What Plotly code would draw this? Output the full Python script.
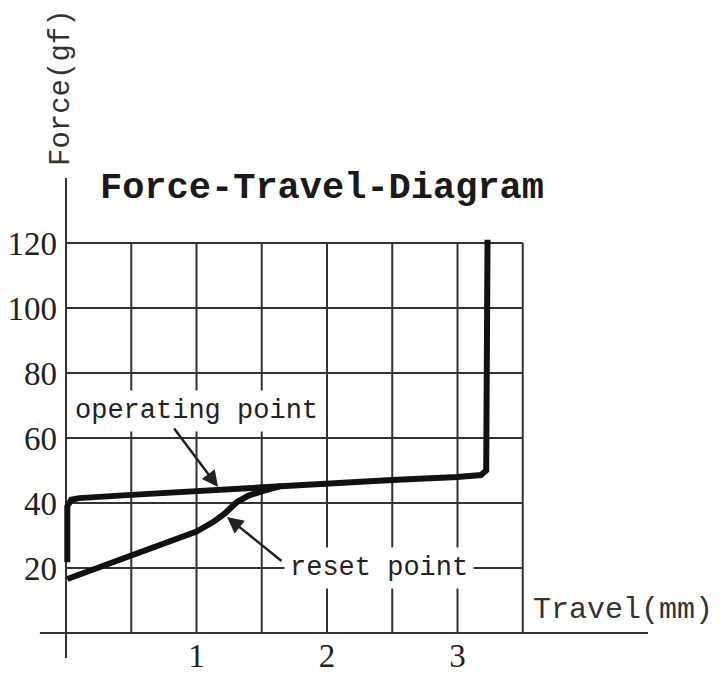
import plotly.graph_objects as go

# ---- data ----
op_travel = [0.01, 0.01, 0.04, 0.1, 0.5, 1.0, 1.5, 2.0, 2.5, 3.0, 3.18, 3.22, 3.23]
op_force = [21.8, 39.0, 41.0, 41.5, 42.5, 43.7, 44.9, 46.2, 47.1, 48.0, 48.6, 50.0, 121.0]

reset_travel = [0.01, 0.5, 1.0, 1.13, 1.22, 1.31, 1.4, 1.5, 1.65]
reset_force = [16.6, 23.8, 31.2, 34.2, 36.9, 40.3, 42.3, 43.6, 45.3]

x_tick_vals = [1, 2, 3]
x_tick_text = ["1", "2", "3"]
y_tick_vals = [20, 40, 60, 80, 100, 120]
y_tick_text = ["20", "40", "60", "80", "100", "120"]

x_grid = [0.5, 1.0, 1.5, 2.0, 2.5, 3.0, 3.5]
y_grid = [20, 40, 60, 80, 100, 120]

# page body has an 8px margin: figure is placed at (8, 8) inside the window
OFF = 8
W, H = 723 - OFF, 683 - OFF
X0_PX, Y0_PX = 66 - OFF, 633 - OFF
PX_PER_MM = 130.5
PX_PER_GF = 3.25

x_range = [-X0_PX / PX_PER_MM, (W - X0_PX) / PX_PER_MM]
y_range = [-(H - Y0_PX) / PX_PER_GF, Y0_PX / PX_PER_GF]


def px(xr):
    return (xr - OFF) / W


def py(yr):
    return 1 - (yr - OFF) / H


MONO = "Liberation Mono"
SERIF = "Liberation Serif"

fig = go.Figure()
fig.add_trace(go.Scatter(x=op_travel, y=op_force, mode="lines",
                         line=dict(color="#111111", width=6), showlegend=False,
                         hoverinfo="skip"))
fig.add_trace(go.Scatter(x=reset_travel, y=reset_force, mode="lines",
                         line=dict(color="#111111", width=6), showlegend=False,
                         hoverinfo="skip"))

shapes = []
grid_col = "#333333"
for gx in x_grid:
    shapes.append(dict(type="line", xref="x", yref="y", x0=gx, x1=gx, y0=0, y1=120,
                       line=dict(color=grid_col, width=2), layer="below"))
for gy in y_grid:
    shapes.append(dict(type="line", xref="x", yref="y", x0=0, x1=3.5, y0=gy, y1=gy,
                       line=dict(color=grid_col, width=2), layer="below"))
# axis lines
shapes.append(dict(type="line", xref="x", yref="y", x0=-0.2, x1=4.46, y0=0, y1=0,
                   line=dict(color=grid_col, width=2), layer="below"))
shapes.append(dict(type="line", xref="x", yref="y", x0=0, x1=0, y0=-7.7, y1=140,
                   line=dict(color=grid_col, width=2), layer="below"))

annotations = [
    dict(x=1.0, y=68.3, xref="x", yref="y", text="operating point", showarrow=False,
         font=dict(family=MONO, size=27, color="#222222"), bgcolor="white", borderpad=5),
    dict(x=2.395, y=20, xref="x", yref="y", text="reset point", showarrow=False,
         font=dict(family=MONO, size=27, color="#222222"), bgcolor="white", borderpad=5),
    dict(x=1.165, y=44.9, ax=0.82, ay=63.4, xref="x", yref="y", axref="x", ayref="y",
         text="", showarrow=True, arrowhead=2, arrowsize=1.3, arrowwidth=2.5,
         arrowcolor="#222222"),
    dict(x=1.234, y=35.7, ax=1.663, ay=21.8, xref="x", yref="y", axref="x", ayref="y",
         text="", showarrow=True, arrowhead=2, arrowsize=1.3, arrowwidth=2.5,
         arrowcolor="#222222"),
    dict(x=px(62), y=py(88), xref="paper", yref="paper", text="Force(gf)",
         textangle=-90, showarrow=False, xanchor="center", yanchor="middle",
         font=dict(family=MONO, size=29, color="#333333")),
    dict(x=px(623), y=py(610), xref="paper", yref="paper", text="Travel(mm)",
         showarrow=False, xanchor="center", yanchor="middle",
         font=dict(family=MONO, size=30, color="#333333")),
]

fig.update_layout(
    width=W, height=H, autosize=False,
    margin=dict(l=0, r=0, t=0, b=0, pad=0, autoexpand=False),
    paper_bgcolor="white", plot_bgcolor="white",
    title=dict(text="<b>Force-Travel-Diagram</b>", x=px(322), y=py(185),
               xanchor="center", yanchor="middle", automargin=False,
               font=dict(family=MONO, size=37, color="#1a1a1a")),
    shapes=shapes,
    annotations=annotations,
    xaxis=dict(range=x_range, showgrid=False, zeroline=False, showline=False,
               automargin=False, domain=[0, 1],
               tickmode="array", tickvals=x_tick_vals, ticktext=x_tick_text,
               ticks="", ticklabelstandoff=0,
               anchor="free", position=(H - Y0_PX) / H,
               tickfont=dict(family=SERIF, size=33, color="#222222")),
    yaxis=dict(range=y_range, showgrid=False, zeroline=False, showline=False,
               automargin=False, domain=[0, 1],
               tickmode="array", tickvals=y_tick_vals, ticktext=y_tick_text,
               ticks="", ticklabelstandoff=9,
               anchor="free", position=X0_PX / W,
               tickfont=dict(family=SERIF, size=33, color="#222222")),
)

fig.write_html("out.html")
